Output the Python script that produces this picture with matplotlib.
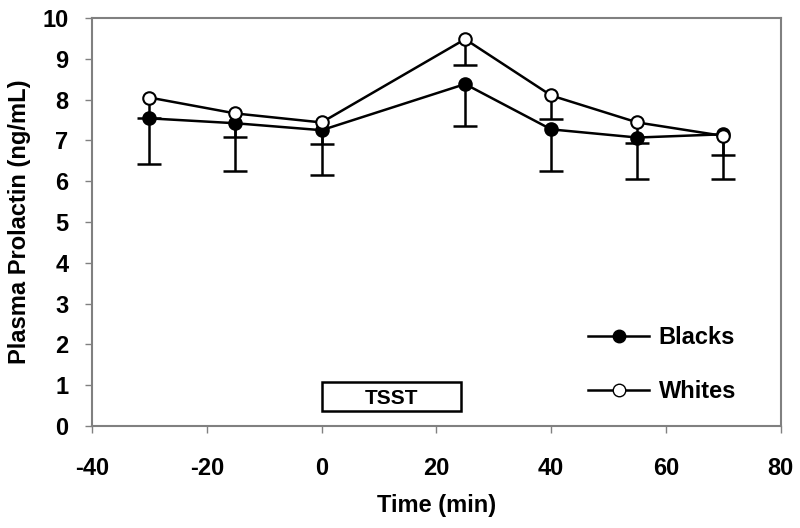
import matplotlib

matplotlib.use("Agg")
import matplotlib.pyplot as plt
from matplotlib.lines import Line2D
from matplotlib.patches import Rectangle
import numpy as np

plt.rcParams["font.family"] = ["Liberation Sans", "DejaVu Sans"]
plt.rcParams["font.weight"] = "bold"
plt.rcParams["axes.unicode_minus"] = False

# Sampling times (min) and mean prolactin (ng/mL)
times = [-30, -15, 0, 25, 40, 55, 70]
blacks = [7.54, 7.42, 7.25, 8.38, 7.27, 7.07, 7.15]
whites = [8.05, 7.66, 7.44, 9.48, 8.10, 7.44, 7.11]
# lower end of the (one-sided) error bars
blacks_low = [6.42, 6.26, 6.16, 7.35, 6.26, 6.05, 6.05]
whites_low = [7.55, 7.09, 6.92, 8.85, 7.52, 6.93, 6.65]

tsst_start, tsst_end = 0, 24.2
tsst_bottom, tsst_top = 0.36, 1.07

x_ticks = [-40, -20, 0, 20, 40, 60, 80]
y_ticks = list(range(0, 11))

fig = plt.figure(figsize=(8, 5.28), dpi=100)
ax = fig.add_axes([0.115, 0.193, 0.861, 0.773])

lw = 1.8
spine_col = "#808080"

t = np.array(times)
for vals, low in ((blacks, blacks_low), (whites, whites_low)):
    ax.vlines(t, low, vals, color="black", lw=lw, zorder=2)
    ax.plot(t, low, ls="none", marker="_", ms=17, mew=lw, color="black", zorder=2)

ax.plot(t, blacks, color="black", lw=lw, marker="o", ms=9,
        mfc="black", mec="black", mew=1.5, zorder=3)
ax.plot(t, whites, color="black", lw=lw, marker="o", ms=9,
        mfc="white", mec="black", mew=1.5, zorder=4)

ax.add_patch(Rectangle((tsst_start, tsst_bottom), tsst_end - tsst_start,
                       tsst_top - tsst_bottom, fill=False, ec="black", lw=lw, zorder=3))
ax.text((tsst_start + tsst_end) / 2, (tsst_bottom + tsst_top) / 2 - 0.03, "TSST",
        ha="center", va="center", fontsize=15, fontweight="bold")

ax.set_xlim(-40, 80)
ax.set_ylim(0, 10)
ax.set_xticks(x_ticks)
ax.set_yticks(y_ticks)
ax.tick_params(direction="out", length=5, width=1, color=spine_col,
               labelsize=17, pad=8)
for lab in ax.get_xticklabels() + ax.get_yticklabels():
    lab.set_fontweight("bold")
ax.tick_params(axis="x", pad=17)
ax.tick_params(axis="y", pad=12)
for s in ax.spines.values():
    s.set_color(spine_col)
    s.set_linewidth(1.5)

ax.set_xlabel("Time (min)", fontsize=17, fontweight="bold", labelpad=10)
ax.set_ylabel("Plasma Prolactin (ng/mL)", fontsize=17, fontweight="bold", labelpad=8)

handles = [
    Line2D([], [], color="black", lw=lw, marker="o", ms=9, mfc="black", mec="black"),
    Line2D([], [], color="black", lw=lw, marker="o", ms=9, mfc="white", mec="black"),
]
ax.legend(handles, ["Blacks", "Whites"], loc="center left",
          bbox_to_anchor=(0.703, 0.151), frameon=False,
          handlelength=2.6, handletextpad=0.4, labelspacing=1.3, borderpad=0,
          prop={"weight": "bold", "size": 17})

fig.savefig("out.png")
